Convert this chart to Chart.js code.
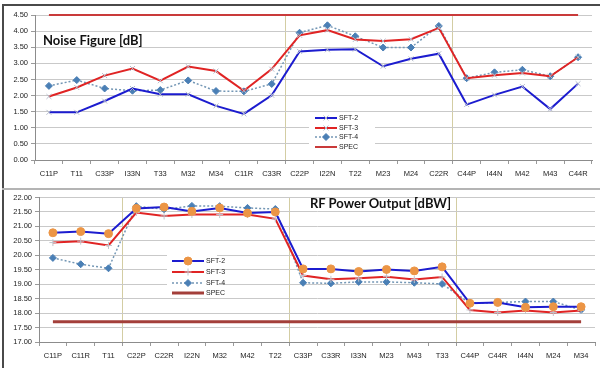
<!DOCTYPE html>
<html lang="en">
<head>
    <meta charset="UTF-8">
    <title>Noise Figure and RF Power Output</title>
    <script src="https://cdn.jsdelivr.net/npm/chart.js"></script>
    <style>
        body {
            margin: 0;
            width: 600px;
            height: 368px;
            overflow: hidden;
            position: relative;
            background: #fff;
            font-family: 'Liberation Sans', Arial, sans-serif;
        }

        .frame-left { position: absolute; left: 2px; top: 4px; width: 2px; height: 364px; background: #4a4a4a; }
        .frame-top { position: absolute; left: 2px; top: 4px; width: 598px; height: 2px; background: #4a4a4a; }
        .divider { position: absolute; left: 2px; top: 188px; width: 598px; height: 2px; background: #b4b4b4; }

        .chart-box { position: absolute; left: 0; width: 600px; }
        #nfBox { top: 0; height: 186px; }
        #rfBox { top: 190px; height: 178px; }

        .chart-title {
            position: absolute;
            font: bold 13px Lato, sans-serif;
            line-height: 13px;
            color: #111;
            white-space: nowrap;
        }
    </style>
</head>
<body>
    <div class="chart-box" id="nfBox"><canvas id="nfChart"></canvas></div>
    <div class="chart-box" id="rfBox"><canvas id="rfChart"></canvas></div>
    <div class="frame-left"></div>
    <div class="frame-top"></div>
    <div class="divider"></div>
    <div class="chart-title" style="left:43px; top:34px;">Noise Figure [dB]</div>
    <div class="chart-title" style="left:310px; top:197px;">RF Power Output [dBW]</div>

    <script>
        // Noise figure (top chart)
        var nfLabels = ['C11P', 'T11', 'C33P', 'I33N', 'T33', 'M32', 'M34', 'C11R', 'C33R', 'C22P',
            'I22N', 'T22', 'M23', 'M24', 'C22R', 'C44P', 'I44N', 'M42', 'M43', 'C44R'];
        var nfSft2 = [1.48, 1.48, 1.83, 2.22, 2.04, 2.04, 1.68, 1.43, 2.01, 3.37,
            3.42, 3.44, 2.91, 3.14, 3.30, 1.72, 2.02, 2.28, 1.58, 2.37];
        var nfSft3 = [1.97, 2.25, 2.62, 2.84, 2.46, 2.90, 2.76, 2.15, 2.82, 3.87,
            4.03, 3.74, 3.69, 3.75, 4.10, 2.54, 2.63, 2.70, 2.60, 3.19];
        var nfSft4 = [2.30, 2.48, 2.22, 2.15, 2.17, 2.47, 2.14, 2.13, 2.36, 3.95,
            4.18, 3.84, 3.49, 3.49, 4.16, 2.54, 2.72, 2.80, 2.60, 3.19];
        var nfSpec = 4.5;
        var nfBreaks = [9, 15, 20];

        // RF power output (bottom chart)
        var rfLabels = ['C11P', 'C11R', 'T11', 'C22P', 'C22R', 'I22N', 'M32', 'M42', 'T22', 'C33P',
            'C33R', 'I33N', 'M23', 'M43', 'T33', 'C44P', 'C44R', 'I44N', 'M24', 'M34'];
        var rfSft2 = [20.78, 20.82, 20.75, 21.62, 21.67, 21.52, 21.64, 21.46, 21.50, 19.53,
            19.53, 19.44, 19.51, 19.46, 19.60, 18.34, 18.37, 18.20, 18.22, 18.22];
        var rfSft3 = [20.44, 20.49, 20.34, 21.48, 21.36, 21.41, 21.41, 21.41, 21.26, 19.30,
            19.17, 19.21, 19.26, 19.16, 19.25, 18.11, 18.02, 18.09, 18.02, 18.09];
        var rfSft4 = [19.91, 19.69, 19.55, 21.70, 21.59, 21.71, 21.70, 21.64, 21.60, 19.05,
            19.03, 19.08, 19.08, 19.05, 19.01, 18.34, 18.37, 18.40, 18.40, 18.11];
        var rfSpec = 17.7;
        var rfBreaks = [3, 9, 15, 20];

        var tickFont = { family: "'Liberation Sans', Arial, sans-serif", size: 7.5 };

        // legend drawn inside the plot area, like the excel original
        var insideLegend = {
            id: 'insideLegend',
            afterDatasetsDraw: function (chart, args, opts) {
                var ctx = chart.ctx;
                ctx.save();
                ctx.fillStyle = '#fff';
                ctx.fillRect(opts.box[0], opts.box[1], opts.box[2], opts.box[3]);
                chart.data.datasets.forEach(function (ds, i) {
                    var y = opts.rows[i];
                    ctx.beginPath();
                    ctx.setLineDash(ds.borderDash || []);
                    ctx.strokeStyle = ds.borderColor;
                    ctx.lineWidth = ds.borderWidth;
                    ctx.moveTo(opts.x, y);
                    ctx.lineTo(opts.x + opts.len, y);
                    ctx.stroke();
                    ctx.setLineDash([]);
                    if (ds.pointRadius > 0) {
                        ctx.fillStyle = ds.pointBackgroundColor;
                        ctx.strokeStyle = ds.pointBorderColor;
                        ctx.lineWidth = ds.pointBorderWidth || 1;
                        Chart.helpers.drawPoint(ctx, {
                            pointStyle: ds.pointStyle,
                            radius: ds.pointRadius,
                            rotation: 0,
                            borderWidth: ds.pointBorderWidth || 1
                        }, opts.x + opts.len / 2, y);
                    }
                    ctx.fillStyle = '#222';
                    ctx.font = "7px 'Liberation Sans', Arial, sans-serif";
                    ctx.textBaseline = 'middle';
                    ctx.fillText(ds.label, opts.x + opts.len + 2, y);
                });
                ctx.restore();
            }
        };

        function breakColor(breaks) {
            return function (c) {
                return breaks.indexOf(c.index) >= 0 ? '#d3cda3' : 'rgba(0,0,0,0)';
            };
        }

        function specLine(value, count) {
            var arr = [];
            for (var i = 0; i < count; i++) arr.push(value);
            return arr;
        }

        function makeScales(min, max, breaks, yWidth, xHeight) {
            return {
                x: {
                    offset: true,
                    grid: { offset: true, color: breakColor(breaks), tickColor: '#9a9a9a', tickLength: 4, lineWidth: 1 },
                    border: { color: '#8c8c8c' },
                    ticks: { font: tickFont, color: '#222', padding: 5, maxRotation: 0, autoSkip: false },
                    afterFit: function (s) { s.height = xHeight; }
                },
                y: {
                    min: min,
                    max: max,
                    grid: { color: '#c9c9c9', tickColor: '#9a9a9a', tickLength: 4 },
                    border: { color: '#8c8c8c' },
                    ticks: {
                        stepSize: 0.5,
                        font: tickFont,
                        color: '#222',
                        padding: 3,
                        callback: function (v) { return Number(v).toFixed(2); }
                    },
                    afterFit: function (s) { s.width = yWidth; }
                }
            };
        }

        var sft4Style = {
            borderColor: '#7497b5',
            borderWidth: 1.5,
            borderDash: [2, 2],
            pointStyle: 'rectRot',
            pointRadius: 3.5,
            pointBackgroundColor: '#4a7fb5',
            pointBorderColor: '#4a7fb5',
            pointBorderWidth: 1
        };

        new Chart(document.getElementById('nfChart'), {
            type: 'line',
            data: {
                labels: nfLabels,
                datasets: [
                    { label: 'SFT-2', data: nfSft2, borderColor: '#1c1ccf', borderWidth: 2,
                      pointStyle: 'crossRot', pointRadius: 3.5, pointBackgroundColor: '#b5bccb',
                      pointBorderColor: '#b5bccb', pointBorderWidth: 1 },
                    { label: 'SFT-3', data: nfSft3, borderColor: '#e02424', borderWidth: 2,
                      pointStyle: 'crossRot', pointRadius: 3.5, pointBackgroundColor: '#b5bccb',
                      pointBorderColor: '#b5bccb', pointBorderWidth: 1 },
                    Object.assign({ label: 'SFT-4', data: nfSft4 }, sft4Style),
                    { label: 'SPEC', data: specLine(nfSpec, nfLabels.length), borderColor: '#c93a3a',
                      borderWidth: 2, pointRadius: 0, clip: false }
                ]
            },
            options: {
                responsive: true,
                maintainAspectRatio: false,
                animation: false,
                layout: { padding: { top: 15, right: 8, bottom: 0, left: 0 } },
                plugins: {
                    legend: { display: false },
                    tooltip: { enabled: false },
                    insideLegend: { box: [309, 112, 66, 40], x: 315, len: 22, rows: [118, 128, 137, 147] }
                },
                elements: { line: { tension: 0 } },
                scales: makeScales(0, 4.5, nfBreaks, 35, 26)
            },
            plugins: [insideLegend]
        });

        new Chart(document.getElementById('rfChart'), {
            type: 'line',
            data: {
                labels: rfLabels,
                datasets: [
                    { label: 'SFT-2', data: rfSft2, borderColor: '#1c1ccf', borderWidth: 2,
                      pointStyle: 'circle', pointRadius: 4, pointBackgroundColor: '#ec9545',
                      pointBorderColor: '#ec9545', pointBorderWidth: 1 },
                    { label: 'SFT-3', data: rfSft3, borderColor: '#e02424', borderWidth: 2,
                      pointStyle: 'cross', pointRadius: 3.5, pointBackgroundColor: '#c0c4cc',
                      pointBorderColor: '#c0c4cc', pointBorderWidth: 1 },
                    Object.assign({ label: 'SFT-4', data: rfSft4 }, sft4Style),
                    { label: 'SPEC', data: specLine(rfSpec, rfLabels.length), borderColor: '#a33f3a',
                      borderWidth: 3, pointRadius: 0 }
                ]
            },
            options: {
                responsive: true,
                maintainAspectRatio: false,
                animation: false,
                layout: { padding: { top: 7, right: 4, bottom: 0, left: 0 } },
                plugins: {
                    legend: { display: false },
                    tooltip: { enabled: false },
                    insideLegend: { box: [167, 64, 50, 44], x: 172, len: 32, rows: [71, 82, 93, 103] }
                },
                elements: { line: { tension: 0 } },
                scales: makeScales(17, 22, rfBreaks, 39, 26)
            },
            plugins: [insideLegend]
        });
    </script>
</body>
</html>
